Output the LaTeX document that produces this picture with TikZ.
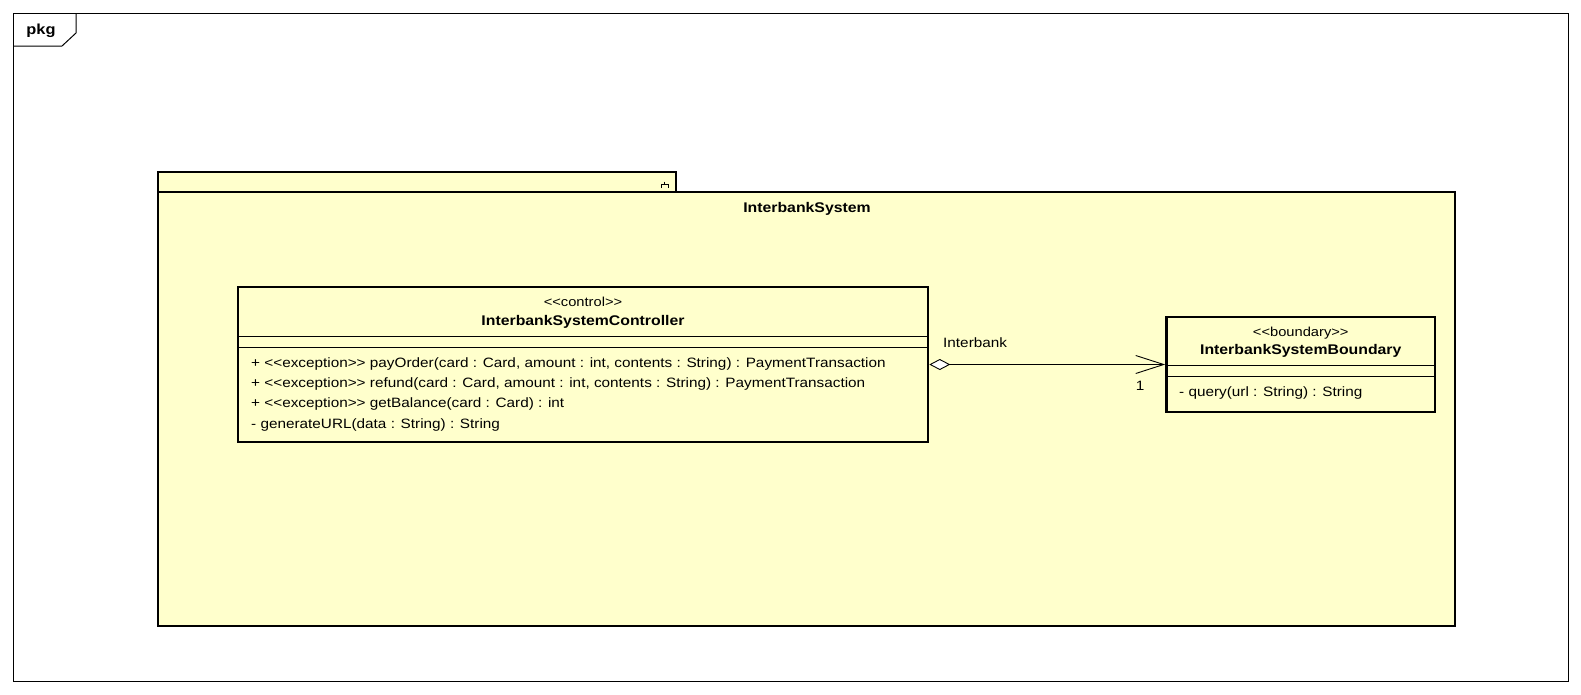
\documentclass[tikz,border=0pt]{standalone}
\usepackage{fontspec}
\setmainfont{Liberation Sans}[FakeStretch=1.13]
\usetikzlibrary{arrows.meta}
\definecolor{umlfill}{RGB}{255,255,204}
\tikzset{
  thickbox/.style={draw=black, line width=2.6pt, fill=umlfill},
  classbox/.style={thickbox, rectangle, inner sep=0pt},
  sep/.style={line width=0.9pt},
  txt/.style={inner sep=0pt, font=\fontsize{13.55}{16}\selectfont},
  btxt/.style={inner sep=0pt, font=\fontsize{14}{16}\selectfont\bfseries},
  stxt/.style={inner sep=0pt, font=\fontsize{13}{15}\selectfont},
  conn/.style={line width=0.9pt},
}
\begin{document}
\begin{tikzpicture}[x=1pt,y=-1pt]
\useasboundingbox (0,0) rectangle (1581,694);
% outer frame
\draw[line width=1pt] (13,13) rectangle (1568,681);
\draw[line width=1pt] (13,46) -- (62,46) -- (76,33) -- (76,13);
\node[btxt, font=\fontsize{14.5}{16}\selectfont\bfseries] (pkg) at (41,31) {pkg};
% package
\draw[thickbox] (158,172) rectangle (676,192);
\draw[thickbox] (158,192) rectangle (1455,626);
\draw[line width=1pt] (664.5,181.5) -- (664.5,184) (661,188) -- (661,184) -- (668,184) -- (668,188);
\node[btxt] (pkgname) at (807,209) {InterbankSystem};
% controller
\node[classbox, minimum width=690pt, minimum height=155pt] (ctrl) at (583,364.5) {};
\draw[sep] (238,336) -- (928,336);
\draw[sep] (238,347) -- (928,347);
\node[stxt] (ctrlst) at (583,301.5) {{<}{<}control{>}{>}};
\node[btxt] (ctrlname) at (583,321.6) {InterbankSystemController};
\node[txt, anchor=west] (m1) at (251,364) {+ {<}{<}exception{>}{>} payOrder(card : Card, amount : int, contents : String) : PaymentTransaction};
\node[txt, anchor=west] (m2) at (251,384) {+ {<}{<}exception{>}{>} refund(card : Card, amount : int, contents : String) : PaymentTransaction};
\node[txt, anchor=west] (m3) at (251,404) {+ {<}{<}exception{>}{>} getBalance(card : Card) : int};
\node[txt, anchor=west] (m4) at (251,424.5) {- generateURL(data : String) : String};
% boundary
\node[classbox, minimum width=268.5pt, minimum height=95pt] (bnd) at (1300.75,364.5) {};
\draw[sep] (1166.5,365) -- (1435,365);
\draw[sep] (1166.5,376) -- (1435,376);
\node[stxt] (bndst) at (1300.75,333) {{<}{<}boundary{>}{>}};
\node[btxt] (bndname) at (1300.75,351) {InterbankSystemBoundary};
\node[txt, anchor=west] (q1) at (1179,393) {- query(url : String) : String};
% association
\draw[conn, {Diamond[fill=white,length=21pt,width=11pt,line width=0.9pt]}-{Straight Barb[length=28pt,width=18pt,line width=0.9pt]}] (ctrl.east) -- (bnd.west);
\node[txt, anchor=west] (rolename) at (943,343) {Interbank};
\node[txt] (mult) at (1140,386) {1};
\end{tikzpicture}
\end{document}
